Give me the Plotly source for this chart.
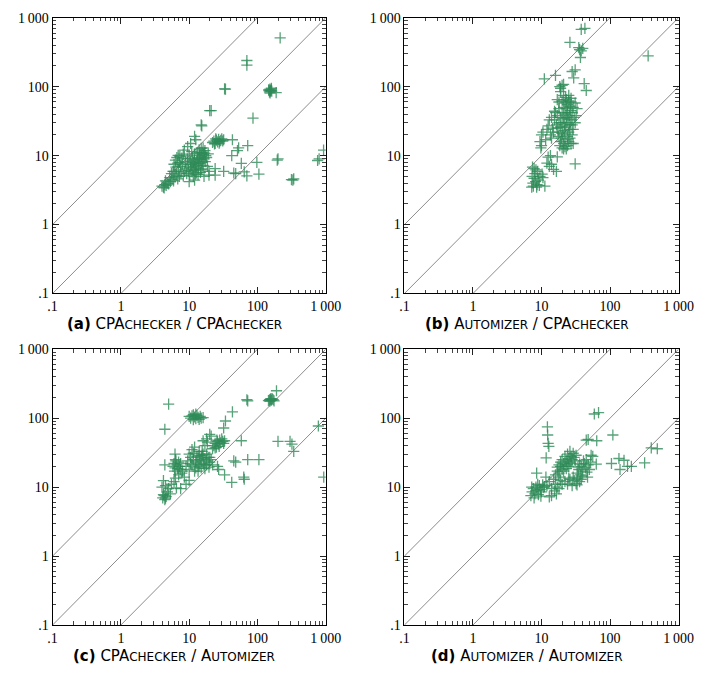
import plotly.graph_objects as go

# ---------------------------------------------------------------------------
# Run-time pairs (x, y) in seconds, grouped by cluster for each comparison
# ---------------------------------------------------------------------------

# (a) CPAchecker / CPAchecker
A_SPREAD = [(215, 510), (70, 240), (70, 205), (33, 93), (34, 92), (20, 45), (21, 45), (86, 35),
            (15, 28), (15.3, 27), (43, 17), (72, 14), (53, 13), (51, 11.8), (42, 10), (58, 7.7),
            (98, 8), (45, 5.6), (48, 5.5), (64, 5.8), (70, 5.1), (105, 5.4), (32, 5.9), (24, 6.5),
            (24, 5.2), (200, 9), (195, 8.6), (800, 9), (760, 8.5), (930, 12), (315, 4.5),
            (340, 4.6), (330, 4.4), (10.5, 15), (12, 19), (12.5, 17), (9.5, 13.5), (8.5, 12),
            (16, 13), (19.5, 5.9), (19.5, 5.2), (16.5, 5.0), (12, 4.4), (10, 4.2)]
A_HIGH = [(148, 88), (152, 92), (155, 86), (158, 90), (150, 84), (160, 95), (153, 81), (157, 88),
          (146, 90), (162, 86), (188, 82)]
A_MID = [(22, 15.5), (23, 16.2), (24, 15.0), (25, 16.8), (26, 15.8), (27, 17.2), (28, 16.0),
         (29, 16.6), (30, 17.5), (31, 16.3), (24.5, 17.5), (27.5, 15.2), (32, 17), (23.5, 14.8)]
A_MAIN = [(9.2, 5.5), (9.8, 6.1), (10.2, 5.2), (10.5, 6.8), (10.8, 7.4), (11.0, 5.8), (11.3, 6.3),
          (11.6, 7.9), (11.9, 8.6), (12.1, 6.9), (12.4, 5.4), (12.7, 7.2), (13.0, 8.1), (13.3, 9.3),
          (13.6, 6.6), (13.9, 7.7), (14.2, 10.1), (14.5, 8.8), (14.8, 6.2), (15.1, 9.6),
          (15.5, 11.2), (15.8, 8.3), (16.2, 10.4), (16.6, 9.0), (17.0, 11.8), (17.5, 10.0),
          (18.0, 9.4), (12.0, 10.6), (11.2, 9.2), (10.4, 8.3), (9.6, 7.6), (9.0, 6.6), (8.6, 5.9),
          (8.2, 5.1), (10.0, 9.9), (13.1, 11.0), (14.0, 12.1), (15.0, 12.8), (16.0, 7.2),
          (17.2, 8.2), (12.8, 5.6), (11.5, 5.0), (13.5, 5.3), (14.6, 5.7), (15.4, 6.4), (18.5, 7.0),
          (19.0, 10.6), (10.9, 11.4), (9.4, 9.0), (8.8, 8.1), (12.3, 7.6), (13.8, 8.9),
          (15.2, 7.9), (11.8, 6.1), (14.4, 11.0), (16.8, 10.9)]
A_LOW = [(6.0, 7.5), (6.3, 8.6), (6.6, 9.4), (6.9, 10.1), (7.2, 8.0), (7.5, 7.0), (6.4, 6.8),
         (7.0, 6.2), (7.8, 9.2), (6.8, 7.8), (5.8, 5.9), (8.2, 10.5), (8.0, 7.4), (7.3, 9.8),
         (4.0, 3.6), (4.2, 3.5), (4.4, 3.8), (4.6, 3.7), (4.8, 4.0), (5.0, 3.9), (5.3, 4.2),
         (5.6, 4.5), (5.9, 4.3), (6.2, 4.9), (6.5, 5.2), (4.5, 4.3), (5.2, 4.8), (6.8, 4.6),
         (7.2, 5.0), (7.6, 5.6), (5.5, 5.5), (4.3, 3.4), (6.0, 5.9)]

# (b) Automizer / CPAchecker
B_SPREAD = [(38, 680), (43, 700), (26, 440), (35, 368), (38, 330), (37, 265), (36, 345), (40, 360),
            (28, 166), (31, 175), (29.5, 134), (360, 280), (11, 130), (16, 146), (42, 111),
            (45, 88), (20, 105), (19, 95), (21, 108), (17, 9.6), (31, 7.6), (16.5, 5.9), (15, 6.3),
            (13, 7), (12, 7.8), (11.2, 3.6), (14, 7.5), (13.5, 10), (12.5, 9.5), (29, 15),
            (10, 20), (10.5, 22), (9.5, 16), (10, 14), (9.8, 13), (14, 18), (15, 22), (12.5, 27),
            (14, 36), (15.5, 44), (13, 33), (11.5, 17), (12, 24)]
B_MAIN = [(18.5, 14), (19, 16), (19.5, 18), (20, 13), (20.5, 20), (21, 15), (21.5, 23), (22, 17),
          (22.5, 26), (23, 12.5), (23.5, 30), (24, 19), (24.5, 34), (25, 22), (25.5, 38), (26, 28),
          (26.5, 45), (27, 33), (22, 40), (21, 35), (20, 30), (19, 26), (18, 22), (17.5, 19),
          (23, 48), (24, 55), (25, 62), (22.5, 70), (26, 52), (27, 60), (28, 42), (29, 50),
          (30, 36), (28, 28), (29, 24), (31, 30), (26, 18), (27, 15), (24, 14), (22, 13.5),
          (21, 12.5), (20, 21), (21.5, 28), (23, 36), (24, 42), (25, 16), (26, 24), (28, 20),
          (22, 58), (21, 50), (20, 42), (19, 36), (18, 30), (17, 25), (16.5, 28), (15.5, 33),
          (14.5, 25), (13.5, 20), (25, 75), (23, 65), (27, 68), (21, 75), (20, 62), (18, 48),
          (16, 42), (17, 38), (18, 60), (17, 65), (19, 85), (18.5, 100), (33, 48), (32, 38),
          (31, 58)]
B_LOW = [(7.2, 3.5), (7.5, 4.0), (7.8, 4.7), (8, 5.5), (8.3, 6.2), (7.4, 6.8), (8.6, 3.8),
         (9, 4.4), (9.5, 5.0), (7.6, 3.6), (8.2, 4.2), (8.8, 5.9), (7.3, 5.0), (9.3, 3.7),
         (10.2, 5.4), (10.5, 4.8), (7.8, 6.5), (8.5, 3.5)]

# (c) CPAchecker / Automizer
C_SPREAD = [(5, 160), (4.4, 69), (20, 58), (16, 47), (18, 50), (34, 91), (32, 72), (43, 123),
            (70, 185), (72, 178), (190, 250), (58, 47), (200, 46), (300, 46), (320, 42), (340, 33),
            (780, 77), (935, 14), (72, 25), (105, 25), (45, 24), (48, 23), (42, 11.7), (63, 14),
            (64, 13), (33, 15), (26, 20), (27, 18), (4.4, 21), (6.2, 30), (17, 40), (18.5, 45),
            (21, 55)]
C_TOP = [(10.5, 100), (11, 108), (11.5, 112), (12, 104), (12.5, 98), (13, 110), (13.5, 103),
         (14, 96), (14.5, 106), (15, 100), (11.5, 95), (12.5, 115), (10, 106), (16, 102),
         (145, 180), (150, 185), (155, 188), (160, 182), (165, 190), (170, 185), (175, 178),
         (152, 176), (158, 192)]
C_MID = [(23, 40), (24, 43), (25, 38), (26, 46), (27, 42), (28, 48), (29, 44), (30, 50), (31, 46),
         (32, 43), (25.5, 48), (27.5, 39), (24, 37), (33, 47), (22, 36)]
C_MAIN = [(9, 20), (9.5, 24), (10, 18), (10.5, 27), (11, 21), (11.5, 31), (12, 17), (12.5, 23),
          (13, 28), (13.5, 20), (14, 33), (14.5, 25), (15, 19), (15.5, 29), (16, 22), (16.5, 26),
          (17, 18.5), (17.5, 24), (18, 21), (19, 27), (20, 23), (11, 35), (12, 38), (13, 24),
          (14, 21), (15, 27), (16, 30), (10, 30), (12.5, 19), (18, 30), (19.5, 19.5), (21, 25),
          (22, 21), (13.5, 17), (15.5, 33), (11.5, 25), (16.5, 21), (14, 29), (10.5, 22), (20, 27)]
C_LOW = [(5.8, 20), (6.0, 22), (6.2, 19), (6.4, 24), (6.6, 21), (6.8, 18.5), (7.0, 23), (7.2, 20),
         (7.5, 22), (6.3, 25), (7.4, 18), (6.1, 17), (4.1, 7), (4.3, 7.5), (4.5, 6.9), (4.2, 7.8),
         (4.6, 7.3), (4.4, 6.6), (4.2, 12.4), (4.5, 10.5), (4.0, 10), (5, 9.5), (5.5, 11), (6, 12),
         (6.3, 13.5), (7, 15), (8, 17), (5.3, 8), (4.8, 8.5), (6.5, 9.7), (7.5, 9.5), (9, 11),
         (10, 12.5), (8.5, 14), (7.8, 16)]

# (d) Automizer / Automizer
D_SPREAD = [(59, 115), (68, 120), (12.2, 75), (12.3, 57), (12.5, 43), (12.8, 39), (11.7, 26.5),
            (45, 48), (48, 49), (64, 47), (110, 57), (400, 37), (490, 36), (320, 22.5), (135, 26),
            (160, 24.5), (140, 18), (180, 20), (205, 20), (105, 22), (63, 21.5), (53, 29), (56, 28),
            (8.5, 16), (11.6, 14)]
D_RIGHT = [(33, 16), (35, 18), (37, 15), (38, 20), (40, 17), (42, 22), (44, 19), (46, 16.5),
           (48, 21), (50, 18), (52, 23), (36, 21.5), (39, 14.5), (41, 24), (45, 25), (34, 19.5),
           (47, 14), (22, 12), (24, 11), (26, 13), (28, 10.5), (30, 12.5), (32, 11.2), (34, 13.5),
           (36, 12), (25, 13.5), (29, 14), (33, 10.8), (38, 13)]
D_MID = [(16, 15), (17, 17), (18, 16), (19, 20), (20, 18), (21, 22), (22, 20), (23, 24), (24, 21),
         (25, 26), (26, 23), (27, 28), (28, 25), (29, 31), (30, 27), (20, 25), (22, 28), (24, 30),
         (18, 21), (26, 33), (21, 17), (23, 18.5), (25, 20), (27, 22), (31, 24), (32, 29),
         (19, 23), (17, 19.5)]
D_LOW = [(7, 7.5), (7.3, 8.5), (7.6, 9.5), (8, 8), (8.3, 10), (8.6, 9), (9, 7.8), (9.3, 10.5),
         (9.6, 9.2), (10, 8.5), (10.4, 10.8), (10.8, 9.8), (7.8, 7), (8.8, 11), (9.8, 7.4),
         (7.2, 10), (11, 10.2), (12, 10.5), (13, 12), (14, 9.5), (15, 13), (16, 11), (17, 10),
         (18, 14), (19, 12.5), (14, 7.5), (13, 7.2), (16.5, 8), (15.5, 8.8), (20, 11), (18, 9.5)]

PANELS = [
    ("a", "CPA", "CHECKER", "CPA", "CHECKER", A_SPREAD + A_HIGH + A_MID + A_MAIN + A_LOW),
    ("b", "A", "UTOMIZER", "CPA", "CHECKER", B_SPREAD + B_MAIN + B_LOW),
    ("c", "CPA", "CHECKER", "A", "UTOMIZER", C_SPREAD + C_TOP + C_MID + C_MAIN + C_LOW),
    ("d", "A", "UTOMIZER", "A", "UTOMIZER", D_SPREAD + D_RIGHT + D_MID + D_LOW),
]

TICK_VALS = [0.1, 1, 10, 100, 1000]
TICK_TEXT = [".1", "1", "10", "100", "1\u2009000"]
RATIOS = [10, 1, 0.1]          # reference lines y = r * x
AXIS_MIN, AXIS_MAX = 0.1, 1000

W, H = 712, 676
# plot boxes in pixels: (left, right, top, bottom)
BOXES = [(49, 330, 11, 293), (411, 693, 11, 293), (49, 330, 350, 632), (411, 693, 350, 632)]
# caption anchors: centre x, top y
TITLE_POS = [(174, 314), (537, 314), (174, 654), (537, 654)]

GREEN = "rgba(46,139,87,0.8)"
minor_vals = [m * 10 ** e for e in range(-1, 3) for m in range(2, 10)]

fig = go.Figure()
layout = dict(width=W, height=H, margin=dict(l=0, r=0, t=0, b=0),
              paper_bgcolor="white", plot_bgcolor="white", showlegend=False)

def small_caps(big, small):
    return f"{big}<span style='font-size:12px'>{small}</span>"

annotations = []
for i, (tag, n1, s1, n2, s2, pts) in enumerate(PANELS):
    k = "" if i == 0 else str(i + 1)
    xa, ya = "x" + k, "y" + k
    left, right, top, bottom = BOXES[i]
    axis_common = dict(
        type="log", range=[-1, 3], tickmode="array", tickvals=TICK_VALS, ticktext=TICK_TEXT,
        ticks="inside", ticklen=6, tickwidth=1, tickcolor="#222", showline=True,
        linecolor="black", linewidth=1, mirror="ticks", showgrid=False, zeroline=False,
        tickfont=dict(family="Liberation Serif", size=14, color="black"),
        minor=dict(tickmode="array", tickvals=minor_vals, ticks="inside", ticklen=3.5,
                   tickwidth=1, tickcolor="#444", showgrid=False),
    )
    layout["xaxis" + k] = dict(axis_common, domain=[left / W, right / W], anchor=ya)
    layout["yaxis" + k] = dict(axis_common, domain=[(H - bottom) / H, (H - top) / H], anchor=xa)

    for r in RATIOS:
        fig.add_trace(go.Scatter(
            x=[AXIS_MIN / 10, AXIS_MAX * 10], y=[r * AXIS_MIN / 10, r * AXIS_MAX * 10],
            mode="lines", line=dict(color="#8c8c8c", width=1), xaxis=xa, yaxis=ya,
            hoverinfo="skip"))

    xs = [p[0] for p in pts]
    ys = [p[1] for p in pts]
    fig.add_trace(go.Scatter(
        x=xs, y=ys, mode="markers", xaxis=xa, yaxis=ya,
        marker=dict(symbol="cross-thin", size=8, line=dict(color=GREEN, width=1.3))))

    tx, ty = TITLE_POS[i]
    annotations.append(dict(
        x=tx / W, y=1 - ty / H, xref="paper", yref="paper", showarrow=False,
        xanchor="center", yanchor="top", borderpad=0,
        text=f"<b>({tag})</b> {small_caps(n1, s1)} / {small_caps(n2, s2)}",
        font=dict(family="DejaVu Sans", size=15, color="black")))

layout["annotations"] = annotations
fig.update_layout(**layout)
fig.write_html("out.html")
